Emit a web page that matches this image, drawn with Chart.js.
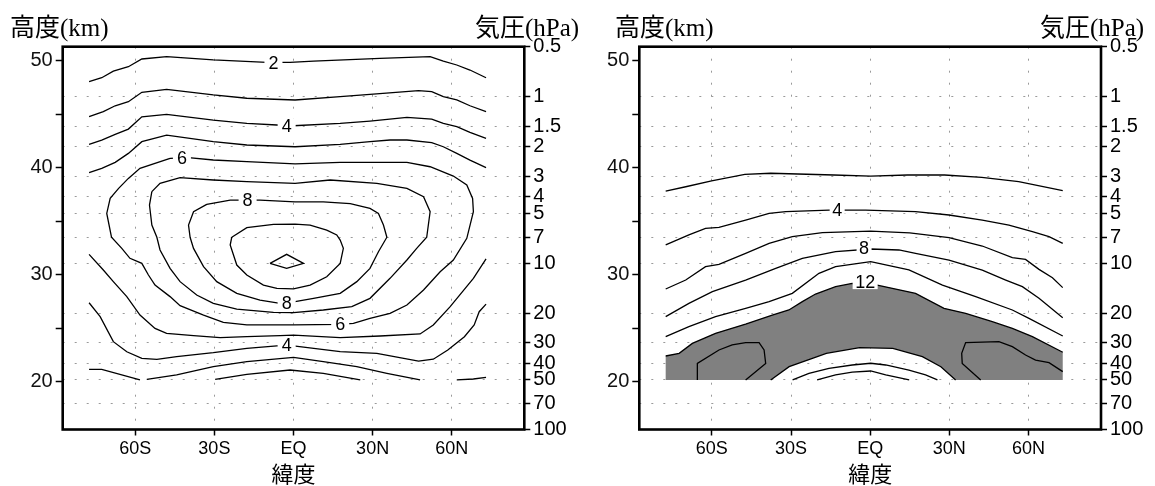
<!DOCTYPE html>
<html><head><meta charset="utf-8">
<script src="https://cdn.jsdelivr.net/npm/chart.js@4.4.0/dist/chart.umd.min.js"></script>
<style>
html,body{margin:0;padding:0;background:#fff;}
#wrap{position:relative;width:1155px;height:486px;overflow:hidden;background:#fff;}
.cv{position:absolute;top:0;height:486px;}
.ttl{position:absolute;font-family:"Liberation Serif","Noto Sans CJK JP",serif;font-size:25px;line-height:24px;color:#000;white-space:nowrap;}
</style></head><body>
<div id="wrap">
  <div class="cv" style="left:0;width:577px"><canvas id="c1" width="577" height="486"></canvas></div>
  <div class="cv" style="left:577px;width:578px"><canvas id="c2" width="578" height="486"></canvas></div>
  <div class="ttl" style="left:10px;top:16px">高度(km)</div>
  <div class="ttl" style="left:475px;top:16px">気圧(hPa)</div>
  <div class="ttl" style="left:615px;top:16px">高度(km)</div>
  <div class="ttl" style="left:1040px;top:16px">気圧(hPa)</div>
</div>
<script>
// ---------- axes ----------
const LAT_TICKS = [-60, -30, 0, 30, 60];
const LAT_LABELS = ['60S', '30S', 'EQ', '30N', '60N'];
const KM_TICKS = [20, 25, 30, 35, 40, 45, 50];
const KM_LABELS = ['20', '', '30', '', '40', '', '50'];
const P_TICKS = [0.5, 1, 1.5, 2, 3, 4, 5, 7, 10, 20, 30, 40, 50, 70, 100];
const P_LABELS = ['0.5', '1', '1.5', '2', '3', '4', '5', '7', '10', '20', '30', '40', '50', '70', '100'];
const LAT_MIN = -87.5, LAT_MAX = 87.5;
const KM_MIN = 15.53, KM_MAX = 51.31;
const P_TOP = 0.5, P_BOTTOM = 100;
const BOTTOM_KM = 20.16; // lower edge of data (50 hPa)

// ---------- left panel contours [lat, km] ----------
const L_2A = [[-77.5,48.04],[-72.7,48.41],[-68.3,49.03],[-62.6,49.44],[-57.5,50.16],[-48.1,50.38],[-30.4,50.07],[-10.1,49.85],[-1.3,49.85],[7.6,49.97],[32.8,50.22],[51.8,50.38],[56.8,49.97],[61.9,49.6],[66.9,49.13],[73.0,48.41]];
const L_3A = [[-77.5,44.77],[-72.1,45.24],[-67.6,45.79],[-62.6,46.17],[-57.5,47.05],[-48.1,47.33],[-30.4,46.8],[-17.7,46.49],[0.6,46.33],[17.7,46.64],[29.0,46.86],[47.4,47.2],[52.4,47.11],[56.8,46.64],[61.9,46.33],[66.9,45.79],[73.0,45.24]];
const L_4A = [[-77.5,42.18],[-72.7,42.58],[-67.6,43.11],[-62.6,43.61],[-57.5,44.76],[-48.1,44.98],[-30.4,44.45],[-17.7,44.14],[-6.3,43.99],[0.0,43.92],[17.7,44.14],[29.0,44.36],[43.0,44.7],[52.4,44.55],[56.8,44.14],[61.9,43.83],[66.9,43.3],[73.0,42.74]];
const L_5A = [[-77.5,39.53],[-72.7,39.94],[-67.6,40.5],[-62.6,41.34],[-57.5,42.43],[-48.1,43.05],[-30.4,42.43],[-17.7,42.12],[0.6,41.96],[17.7,42.18],[29.0,42.43],[36.6,42.59],[43.0,42.59],[52.4,42.34],[56.8,41.96],[61.9,41.34],[66.9,40.71],[73.0,40.0]];
const L_6 = [[-46.8,40.88],[-39.8,40.94],[-30.4,40.72],[-17.7,40.56],[0.6,40.35],[17.7,40.5],[43.0,40.5],[51.8,40.09],[60.6,39.22],[65.7,38.38],[67.9,37.13],[68.2,35.89],[65.7,33.4],[60.6,31.37],[55.6,30.28],[49.3,28.57],[43.0,27.17],[36.6,26.39],[29.0,25.92],[22.7,25.45],[17.7,25.36],[0.0,25.3],[-17.7,25.3],[-26.6,25.55],[-34.1,26.23],[-43.0,27.1],[-46.8,27.95],[-52.5,29.03],[-55.0,29.97],[-57.5,31.06],[-62.0,31.53],[-65.1,32.46],[-69.0,33.5],[-70.8,35.73],[-69.5,37.13],[-66.3,38.07],[-62.6,39.0],[-58.2,39.94],[-46.8,40.88]];
const L_7 = [[-53.7,37.76],[-50.6,38.54],[-43.0,39.07],[-30.4,38.85],[-17.7,38.69],[0.6,38.54],[13.9,38.85],[31.6,38.54],[43.0,38.07],[49.3,37.29],[51.8,35.89],[50.5,33.5],[46.7,32.46],[43.0,31.37],[36.6,29.66],[29.0,27.79],[22.1,27.01],[11.3,26.7],[0.0,26.45],[-7.6,26.48],[-21.5,26.79],[-30.4,27.32],[-36.7,28.1],[-43.0,29.35],[-46.8,30.59],[-50.6,32.31],[-51.8,33.5],[-53.7,34.64],[-54.6,36.51],[-53.7,37.76]];
const L_8 = [[-32.9,36.57],[-24.0,36.97],[-12.7,36.97],[0.6,36.81],[11.3,36.81],[21.5,36.65],[29.0,36.19],[32.2,35.73],[34.1,34.64],[35.4,33.5],[32.2,32.15],[29.0,30.59],[24.0,29.35],[17.7,28.26],[7.6,27.79],[0.6,27.48],[-5.1,27.32],[-12.7,27.63],[-21.5,28.26],[-29.1,29.35],[-34.1,30.75],[-37.9,32.46],[-39.2,33.5],[-39.8,34.64],[-37.9,35.89],[-32.9,36.57]];
const L_9 = [[-23.4,33.5],[-17.7,34.39],[-7.6,34.7],[0.6,34.73],[6.3,34.64],[12.6,34.17],[16.4,33.71],[17.7,33.24],[18.9,32.46],[17.7,31.06],[12.6,29.81],[6.3,29.03],[0.0,28.68],[-6.3,28.72],[-11.4,29.03],[-17.7,29.97],[-21.5,30.9],[-24.0,32.77],[-23.4,33.5]];
const L_10 = [[-8.9,31.06],[-2.6,31.9],[3.8,31.06],[-2.6,30.59],[-8.9,31.06]];
const L_5B = [[-77.5,31.9],[-72.1,30.44],[-68.3,29.35],[-63.2,27.95],[-58.2,26.23],[-52.5,24.98],[-48.1,24.52],[-37.9,24.3],[-27.8,24.11],[-17.7,24.21],[-5.1,24.3],[0.0,24.36],[17.7,24.11],[32.8,24.27],[48.0,24.46],[53.0,25.3],[59.4,27.01],[68.2,29.66],[73.0,31.47]];
const L_4B = [[-77.5,27.38],[-73.3,26.08],[-68.3,23.74],[-63.2,22.8],[-57.5,22.18],[-51.8,22.09],[-44.3,22.34],[-30.4,22.71],[-17.7,23.12],[-6.3,23.34],[0.0,23.34],[17.7,22.8],[31.6,22.65],[47.4,21.93],[53.0,22.1],[58.5,22.96],[64.8,24.2],[68.5,25.3],[70.4,26.54],[73.0,27.25]];
const L_3B1 = [[-77.5,21.15],[-72.7,21.15],[-58.2,20.16]];
const L_3B2 = [[-55.6,20.22],[-44.3,20.63],[-30.4,21.4],[-17.7,21.87],[0.0,22.28],[11.3,21.87],[24.0,21.4],[35.4,20.78],[48.0,20.16]];
const L_3B3 = [[61.9,20.16],[68.2,20.25],[73.0,20.41]];
const L_2B = [[-29.7,20.22],[-17.7,20.69],[-1.3,21.09],[11.3,20.78],[25.3,20.16]];
const LEFT_LABELS = [[-7.6,49.8,'2'],[-2.6,43.9,'4'],[-42.3,40.87,'6'],[-17.4,37.0,'8'],[-2.6,27.33,'8'],[17.7,25.36,'6'],[-2.6,23.43,'4']];

// ---------- right panel contours [lat, km] ----------
const R_2 = [[-77.5,37.82],[-69.9,38.22],[-60.1,38.76],[-47.5,39.38],[-37.7,39.48],[-13.8,39.32],[0.2,39.22],[14.2,39.32],[28.2,39.32],[42.3,39.1],[56.3,38.69],[73.0,37.85]];
const R_4 = [[-77.5,32.78],[-68.7,33.72],[-62.4,34.33],[-57.3,34.43],[-47.2,35.11],[-38.3,35.73],[-32.0,35.89],[-15.6,36.04],[-1.7,36.04],[17.2,35.89],[29.9,35.58],[42.5,35.11],[52.6,34.64],[61.5,34.02],[67.8,33.55],[73.0,32.92]];
const R_6 = [[-77.5,28.66],[-69.9,29.5],[-62.4,30.75],[-57.3,30.96],[-47.2,31.99],[-38.3,32.93],[-29.5,33.55],[-18.1,33.93],[0.2,34.08],[15.0,33.9],[29.9,33.46],[42.5,32.68],[53.9,31.59],[58.9,31.43],[64.0,30.5],[69.1,29.72],[73.0,28.79]];
const R_8 = [[-77.5,26.08],[-68.7,27.32],[-59.8,28.41],[-47.2,29.5],[-35.8,30.59],[-25.7,31.53],[-13.1,32.15],[0.2,32.4],[10.9,32.31],[17.2,32.0],[29.9,31.37],[42.5,30.43],[51.4,29.5],[57.7,28.88],[64.0,27.79],[73.0,25.98]];
const R_10 = [[-77.5,24.21],[-68.7,25.14],[-58.6,26.08],[-47.2,26.86],[-38.3,27.48],[-29.5,28.26],[-19.4,30.13],[-13.1,30.75],[0.2,31.22],[14.7,30.44],[27.4,29.03],[40.0,27.94],[53.9,26.7],[60.2,25.92],[73.0,24.27]];
const R_12T = [[-77.5,22.4],[-72.4,22.65],[-67.4,23.58],[-58.6,24.52],[-47.2,25.39],[-37.1,26.23],[-30.8,26.7],[-25.7,27.48],[-20.7,28.19],[-13.1,28.88],[-6.8,29.19],[2.7,29.03],[17.2,28.26],[28.0,26.86],[36.2,26.39],[46.3,25.61],[53.9,24.98],[61.5,24.21],[73.0,22.75]];
const R_12B = [[-37.7,20.16],[-30.7,21.4],[-21.9,22.18],[-16.6,22.65],[-4.0,23.18],[8.6,23.12],[19.8,22.34],[26.8,21.4],[32.4,20.16]];
const R_W1 = [[-29.4,20.16],[-23.2,20.78],[-15.6,21.25],[-6.8,21.56],[0.2,21.72],[5.9,21.56],[14.7,21.09],[21.0,20.63],[25.5,20.16]];
const R_W2 = [[-20.1,20.16],[-13.1,20.63],[-6.8,20.9],[0.2,21.0],[5.9,20.63],[14.8,20.16]];
const R_BL = [[-65.5,20.16],[-65.5,21.71],[-57.3,22.96],[-52.3,23.43],[-47.2,23.65],[-42.1,23.65],[-40.2,22.96],[-39.6,21.71],[-47.2,20.16]];
const R_BR = [[41.9,20.16],[34.9,21.71],[34.7,22.65],[36.2,23.65],[48.8,23.74],[53.9,23.27],[58.9,22.49],[62.7,22.02],[67.8,21.78],[73.0,20.94]];
const RIGHT_LABELS = [[-12.5,36.05,'4'],[-2.3,32.46,'8'],[-1.9,29.35,'12']];

// shaded area (>= 12): upper 12-line, data bottom edge, lower 12-line
const R_SHADE = [...R_12T, [73.0, BOTTOM_KM], ...R_12B.slice().reverse(), [-77.5, BOTTOM_KM]];

// ---------- plugins ----------
const labelPlugin = {
  id: 'clabels',
  afterDatasetsDraw(chart, args, opts) {
    const xs = chart.scales.x, ys = chart.scales.y, ctx = chart.ctx;
    ctx.save();
    ctx.font = '18px "Liberation Sans", Arial, sans-serif';
    ctx.textAlign = 'center';
    ctx.textBaseline = 'middle';
    for (const L of opts.items) {
      const x = xs.getPixelForValue(L[0]);
      const y = ys.getPixelForValue(L[1]);
      const w = ctx.measureText(L[2]).width + 2 * opts.padX;
      const h = opts.boxH;
      ctx.fillStyle = '#fff';
      ctx.fillRect(x - w / 2, y - h / 2, w, h);
      ctx.fillStyle = '#000';
      ctx.fillText(L[2], x, y + 1);
    }
    ctx.restore();
  }
};
const framePlugin = {
  id: 'frame',
  afterDatasetsDraw(chart) {
    const {ctx, chartArea: a} = chart;
    ctx.save();
    ctx.lineWidth = 2.6;
    ctx.strokeStyle = '#000';
    ctx.strokeRect(a.left, a.top, a.right - a.left, a.bottom - a.top);
    ctx.restore();
  }
};

function lineDs(data) {
  return {data, showLine: true, pointRadius: 0, borderColor: '#000', borderWidth: 1.3,
          fill: false, tension: 0, order: 0, yAxisID: 'y'};
}

function makeChart(id, datasets, labels, leftW, rightW, labelPad) {
  const tickFont = {family: '"Liberation Sans", Arial, sans-serif', size: 20};
  return new Chart(document.getElementById(id), {
    type: 'scatter',
    data: {datasets},
    plugins: [labelPlugin, framePlugin],
    options: {
      responsive: false, animation: false, events: [],
      layout: {padding: {top: 46.7, left: 0, right: 0, bottom: 0}},
      plugins: {legend: {display: false}, tooltip: {enabled: false},
                clabels: {items: labels, padX: labelPad, boxH: 15}},
      scales: {
        x: {
          type: 'linear', position: 'bottom', min: LAT_MIN, max: LAT_MAX,
          afterBuildTicks: s => { s.ticks = LAT_TICKS.map(v => ({value: v})); },
          afterFit: s => { s.height = 56.5; },
          ticks: {autoSkip: false, maxRotation: 0, padding: 3, color: '#000',
                  font: {family: '"Liberation Sans", Arial, sans-serif', size: 18},
                  callback: (v, i) => LAT_LABELS[i]},
          grid: {display: true, drawOnChartArea: true, drawTicks: true, tickLength: 6,
                 color: '#9a9a9a', lineWidth: 1, tickColor: '#000', tickWidth: 1.5, tickBorderDash: []},
          border: {display: false, dash: [2, 10]},
          title: {display: true, text: '緯度', color: '#000',
                  font: {family: '"Noto Sans CJK JP", sans-serif', size: 22, lineHeight: 1.0},
                  padding: {top: 0, bottom: 1}}
        },
        y: {
          type: 'linear', position: 'left', min: KM_MIN, max: KM_MAX,
          afterBuildTicks: s => { s.ticks = KM_TICKS.map(v => ({value: v})); },
          afterFit: s => { s.width = leftW; },
          ticks: {autoSkip: false, padding: 3, color: '#111', font: tickFont,
                  callback: (v, i) => KM_LABELS[i]},
          grid: {display: true, drawOnChartArea: false, drawTicks: true, tickLength: 7,
                 tickColor: '#000', tickWidth: 1.5, tickBorderDash: []},
          border: {display: false}
        },
        p: {
          type: 'logarithmic', position: 'right', reverse: true, min: P_TOP, max: P_BOTTOM,
          afterBuildTicks: s => { s.ticks = P_TICKS.map(v => ({value: v})); },
          afterFit: s => { s.width = rightW; },
          ticks: {autoSkip: false, padding: 3, color: '#000', font: tickFont,
                  callback: (v, i) => P_LABELS[i]},
          grid: {display: true, drawOnChartArea: true, drawTicks: true, tickLength: 6,
                 color: '#9a9a9a', lineWidth: 1, tickColor: '#000', tickWidth: 1.5, tickBorderDash: []},
          border: {display: false, dash: [2, 10]}
        }
      }
    }
  });
}

const leftSets = [L_2A, L_3A, L_4A, L_5A, L_6, L_7, L_8, L_9, L_10, L_5B, L_4B, L_3B1, L_3B2, L_3B3, L_2B].map(lineDs);
makeChart('c1', leftSets, LEFT_LABELS, 62.7, 52.7, 4);

const rightSets = [R_2, R_4, R_6, R_8, R_10, R_12T, R_12B, R_W1, R_W2, R_BL, R_BR].map(lineDs);
rightSets.push({data: R_SHADE, showLine: true, pointRadius: 0, borderColor: 'rgba(0,0,0,0)', borderWidth: 1,
                backgroundColor: '#808080', fill: 'shape', tension: 0, order: 5, yAxisID: 'y'});
makeChart('c2', rightSets, RIGHT_LABELS, 62.3, 54, 2.5);
</script>
</body></html>
